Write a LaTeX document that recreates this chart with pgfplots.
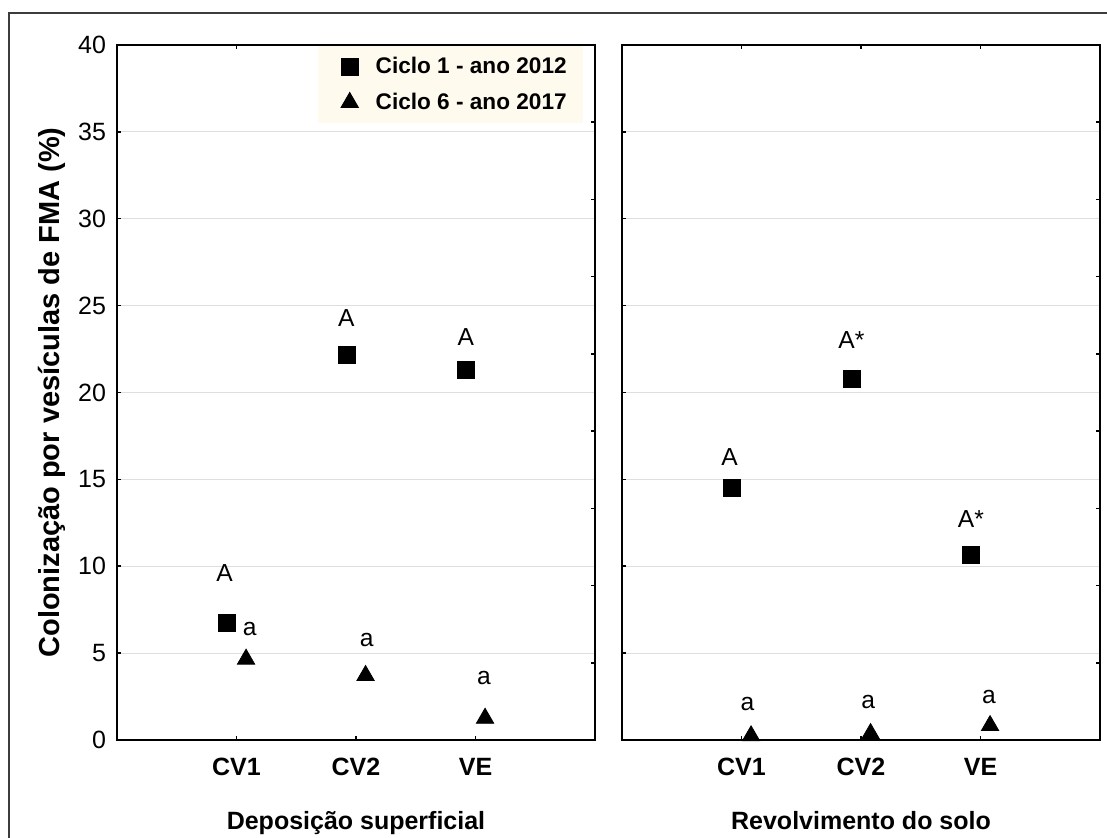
\documentclass[border=0pt]{standalone}
\usepackage{fontspec}
\setmainfont{Liberation Sans}
\usepackage{pgfplots}
\pgfplotsset{compat=1.18}
\definecolor{cream}{RGB}{255,250,238}
\definecolor{gridgray}{RGB}{222,222,222}
\definecolor{framegray}{RGB}{60,60,60}

\pgfplotstableread{
x y
0.92 6.76
1.92 22.14
2.92 21.31
}\leftA
\pgfplotstableread{
x y
1.08 4.65
2.08 3.71
3.08 1.25
}\leftB
\pgfplotstableread{
x y
0.92 14.5
1.92 20.8
2.92 10.67
}\rightA
\pgfplotstableread{
x y
1.08 0.24
2.08 0.37
3.08 0.83
}\rightB

\pgfplotsset{
  myleg/.style={legend image code/.code={\path[draw=none,fill=none] (0pt,-3pt) rectangle (21pt,3pt); \draw[##1] plot coordinates {(10pt,0pt)};}},
  sq/.style={only marks, mark=square*, mark size=4.25pt, black, mark options={solid, fill=black}, myleg},
  tri/.style={only marks, mark=triangle*, mark size=5pt, black, mark options={solid, fill=black}, myleg},
  panel/.style={
    scale only axis, width=239pt, height=347.5pt,
    anchor=south west,
    xmin=0, xmax=4, ymin=0, ymax=40,
    xtick={1,2,3}, xticklabels={CV1,CV2,VE},
    ytick={0,5,...,40},
    xtick pos=both, ytick pos=left,
    tick align=inside, major tick length=2.2pt,
    every tick/.style={black, line width=0.75pt},
    axis line style={line width=0.8pt, black},
    ymajorgrids, grid style={gridgray, line width=0.5pt},
    xticklabel style={font=\bfseries\fontsize{12.5}{14}\selectfont, anchor=base, yshift=-18pt},
    yticklabel style={font=\fontsize{12.5}{14}\selectfont, xshift=-2pt},
    /pgf/number format/assume math mode=true,
    xlabel style={at={(axis description cs:0.5,-0.1285)}, anchor=base, font=\bfseries\fontsize{12.5}{14}\selectfont},
    clip=false,
  },
  rticks/.style={
    scale only axis, width=239pt, height=347.5pt,
    anchor=south west,
    xmin=0, xmax=4, ymin=0, ymax=40,
    hide x axis, axis y line*=right,
    ytick={4.4444,8.8889,13.3333,17.7778,22.2222,26.6667,31.1111,35.5556},
    yticklabels={},
    tick align=inside, major tick length=2.2pt,
    every tick/.style={black, line width=0.75pt},
    axis line style={line width=0.8pt, black},
  },
}

\begin{document}
\begin{tikzpicture}
\useasboundingbox (0pt,0pt) rectangle (553.5pt,419pt);
\draw[framegray, line width=1pt] (4.65pt,-6pt) rectangle (560pt,412.65pt);

% left panel
\begin{axis}[panel, at={(58.5pt,49pt)},
  xlabel={Deposição superficial},
  ylabel={Colonização por vesículas de FMA (\%)},
  ylabel style={at={(axis description cs:-0.12134,0.5)}, anchor=base, font=\bfseries\fontsize{14.5}{16}\selectfont},
  legend style={at={(rel axis cs:0.975,1)}, anchor=north east, yshift=-0.5pt,
    draw=none, fill=cream, font=\bfseries\fontsize{11.3}{13}\selectfont,
    inner xsep=6pt, inner ysep=3.5pt, row sep=4pt, nodes={inner ysep=2pt}},
  legend cell align=left,
]
\addplot[sq] table[x=x,y=y] {\leftA};
\addlegendentry{Ciclo 1 - ano 2012}
\addplot[tri] table[x=x,y=y] {\leftB};
\addlegendentry{Ciclo 6 - ano 2017}
\begin{scope}[every node/.style={font=\fontsize{12.3}{14}\selectfont}]
\node at (axis cs:0.90,9.6) {A};
\node at (axis cs:1.92,24.3) {A};
\node at (axis cs:2.92,23.2) {A};
\node at (axis cs:1.11,6.4) {a};
\node at (axis cs:2.09,5.76) {a};
\node at (axis cs:3.07,3.55) {a};
\end{scope}
\end{axis}
\begin{axis}[rticks, at={(58.5pt,49pt)}]
\end{axis}

% right panel
\begin{axis}[panel, at={(311pt,49pt)},
  xlabel={Revolvimento do solo},
  yticklabels={},
]
\addplot[sq] table[x=x,y=y] {\rightA};
\addplot[tri] table[x=x,y=y] {\rightB};
\begin{scope}[every node/.style={font=\fontsize{12.3}{14}\selectfont}]
\node at (axis cs:0.90,16.3) {A};
\node at (axis cs:1.92,23.0) {A*};
\node at (axis cs:2.92,12.7) {A*};
\node at (axis cs:1.05,2.07) {a};
\node at (axis cs:2.06,2.19) {a};
\node at (axis cs:3.07,2.5) {a};
\end{scope}
\end{axis}
\begin{axis}[rticks, at={(311pt,49pt)}]
\end{axis}
\end{tikzpicture}
\end{document}
